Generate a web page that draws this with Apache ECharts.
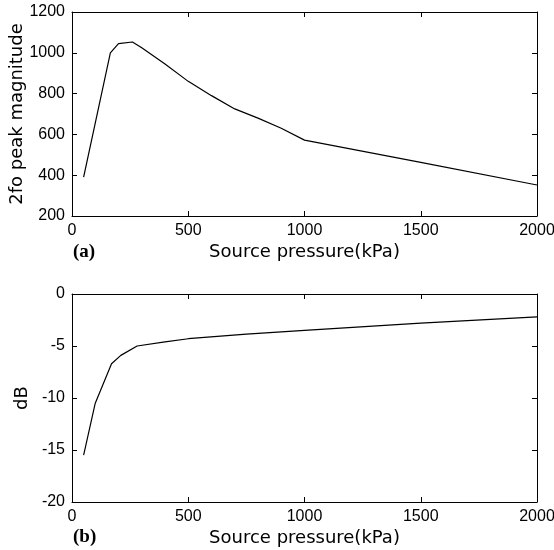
<!DOCTYPE html>
<html>
<head>
<meta charset="utf-8">
<script src="https://cdn.jsdelivr.net/npm/echarts@6/dist/echarts.min.js"></script>
<style>
html,body{margin:0;padding:0;background:#fff;}
#chart{width:554px;height:550px;}
</style>
</head>
<body>
<div id="chart"></div>
<script>
// Panel (a)
const pressureA = [50, 165, 200, 260, 300, 400, 500, 600, 700, 800, 900, 1000, 1500, 2000];
const magnitudeA = [390, 1000, 1045, 1053, 1025, 945, 860, 790, 725, 680, 630, 572, 463, 352];
// Panel (b)
const pressureB = [50, 100, 170, 210, 280, 400, 500, 750, 1000, 1500, 2000];
const dbB = [-15.5, -10.5, -6.7, -5.9, -5.0, -4.6, -4.3, -3.85, -3.5, -2.8, -2.2];

const xTicks = [0, 500, 1000, 1500, 2000];
const yTicksA = [200, 400, 600, 800, 1000, 1200];
const yTicksB = [-20, -15, -10, -5, 0];

const xName = 'Source pressure(kPa)';
const yNameA = '2fo peak magnitude';
const yNameB = 'dB';

const tickFont = {fontFamily: 'Liberation Sans', fontSize: 16, color: '#000'};
const nameFont = {fontFamily: 'DejaVu Sans', fontSize: 18, color: '#000'};
const lineStyle = {color: '#000', width: 1};
const plain = v => String(v);

function xAxes(gridIndex) {
  const base = {
    type: 'value', gridIndex: gridIndex,
    min: xTicks[0], max: xTicks[xTicks.length - 1], interval: xTicks[1] - xTicks[0],
    axisLine: {show: true, onZero: false, lineStyle: lineStyle},
    axisTick: {show: true, inside: true, length: 5, lineStyle: lineStyle},
    splitLine: {show: false}
  };
  return [
    Object.assign({}, base, {
      position: 'bottom',
      axisLabel: Object.assign({margin: 7, formatter: plain}, tickFont),
      name: xName, nameLocation: 'middle', nameGap: 27, nameMoveOverlap: false, nameTextStyle: nameFont
    }),
    Object.assign({}, base, {position: 'top', axisLabel: {show: false}})
  ];
}
function yAxes(gridIndex, ticks, name, gap) {
  const base = {
    type: 'value', gridIndex: gridIndex,
    min: ticks[0], max: ticks[ticks.length - 1], interval: ticks[1] - ticks[0],
    axisLine: {show: true, onZero: false, lineStyle: lineStyle},
    axisTick: {show: true, inside: true, length: 5, lineStyle: lineStyle},
    splitLine: {show: false}
  };
  return [
    Object.assign({}, base, {
      position: 'left',
      axisLabel: Object.assign({margin: 7, formatter: plain}, tickFont),
      name: name, nameLocation: 'middle', nameGap: gap, nameRotate: 90, nameMoveOverlap: false, nameTextStyle: nameFont
    }),
    Object.assign({}, base, {position: 'right', axisLabel: {show: false}})
  ];
}

const chart = echarts.init(document.getElementById('chart'), null, {renderer: 'canvas'});
chart.setOption({
  backgroundColor: '#fff',
  animation: false,
  grid: [
    {left: 72, top: 12, width: 465, height: 204, containLabel: false, outerBoundsMode: 'none'},
    {left: 72, top: 294, width: 465, height: 208, containLabel: false, outerBoundsMode: 'none'}
  ],
  xAxis: xAxes(0).concat(xAxes(1)),
  yAxis: yAxes(0, yTicksA, yNameA, 46).concat(yAxes(1, yTicksB, yNameB, 41)),
  series: [
    {type: 'line', xAxisIndex: 0, yAxisIndex: 0, showSymbol: false, symbol: 'none',
     lineStyle: {color: '#000', width: 1.2}, data: pressureA.map((p, i) => [p, magnitudeA[i]])},
    {type: 'line', xAxisIndex: 2, yAxisIndex: 2, showSymbol: false, symbol: 'none',
     lineStyle: {color: '#000', width: 1.2}, data: pressureB.map((p, i) => [p, dbB[i]])}
  ],
  graphic: [
    {type: 'text', left: 73, top: 243, style: {text: '(a)', font: 'bold 19px "Liberation Serif"', fill: '#000'}},
    {type: 'text', left: 73, top: 528, style: {text: '(b)', font: 'bold 19px "Liberation Serif"', fill: '#000'}}
  ]
});
</script>
</body>
</html>
